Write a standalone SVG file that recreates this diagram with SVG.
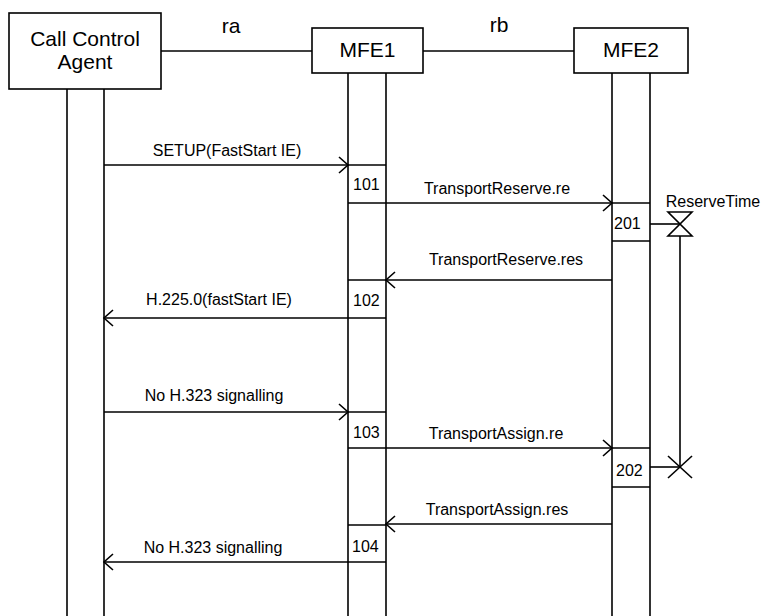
<svg xmlns="http://www.w3.org/2000/svg" width="762" height="616" viewBox="0 0 762 616">
<style>
.ln{stroke:#000;stroke-width:1.6;fill:none}
.box{stroke:#000;stroke-width:1.6;fill:#fff}
.big{font-family:"Liberation Sans",Arial,sans-serif;font-size:21px;fill:#000}
.msg{font-family:"Liberation Sans",Arial,sans-serif;font-size:16px;fill:#000}
.arr{marker-end:url(#ah)}
</style>
<defs>
<marker id="ah" markerUnits="userSpaceOnUse" markerWidth="20" markerHeight="20" viewBox="-10 -10 20 20" refX="0" refY="0" orient="auto" overflow="visible">
<path d="M-9,-8 L0,0 L-9,8" fill="none" stroke="#000" stroke-width="1.6"/>
</marker>
</defs>
<rect width="762" height="616" fill="#fff"/>
<g id="links">
<line class="ln" x1="161" y1="51" x2="312" y2="51"/>
<text class="big" x="231" y="33" text-anchor="middle">ra</text>
<line class="ln" x1="423" y1="51" x2="574" y2="51"/>
<text class="big" x="499" y="32" text-anchor="middle">rb</text>
</g>
<g id="cca">
<line class="ln" x1="67" y1="89" x2="67" y2="616"/>
<line class="ln" x1="104" y1="89" x2="104" y2="616"/>
<rect class="box" x="9" y="13" width="152" height="76"/>
<text class="big" x="85" y="46" text-anchor="middle">Call Control</text>
<text class="big" x="85" y="69" text-anchor="middle">Agent</text>
</g>
<g id="mfe1">
<line class="ln" x1="348" y1="73" x2="348" y2="616"/>
<line class="ln" x1="386" y1="73" x2="386" y2="616"/>
<rect class="box" x="312" y="28" width="111" height="45"/>
<text class="big" x="367.5" y="57" text-anchor="middle">MFE1</text>
</g>
<g id="mfe2">
<line class="ln" x1="612" y1="73" x2="612" y2="616"/>
<line class="ln" x1="650" y1="73" x2="650" y2="616"/>
<rect class="box" x="574" y="28" width="114" height="45"/>
<text class="big" x="631" y="57" text-anchor="middle">MFE2</text>
</g>
<g id="activations">
<line class="ln" x1="348" y1="165" x2="386" y2="165"/>
<line class="ln" x1="348" y1="203" x2="386" y2="203"/>
<text class="msg" x="353" y="190">101</text>
<line class="ln" x1="348" y1="280" x2="386" y2="280"/>
<line class="ln" x1="348" y1="318" x2="386" y2="318"/>
<text class="msg" x="353" y="306">102</text>
<line class="ln" x1="348" y1="412" x2="386" y2="412"/>
<line class="ln" x1="348" y1="448" x2="386" y2="448"/>
<text class="msg" x="353" y="438">103</text>
<line class="ln" x1="348" y1="525" x2="386" y2="525"/>
<line class="ln" x1="348" y1="562" x2="386" y2="562"/>
<text class="msg" x="352" y="552">104</text>
<line class="ln" x1="612" y1="203" x2="650" y2="203"/>
<line class="ln" x1="612" y1="241" x2="650" y2="241"/>
<text class="msg" x="614" y="229">201</text>
<line class="ln" x1="612" y1="448" x2="650" y2="448"/>
<line class="ln" x1="612" y1="487" x2="650" y2="487"/>
<text class="msg" x="616" y="476">202</text>
</g>
<g id="timer">
<text class="msg" x="713" y="207" text-anchor="middle">ReserveTime</text>
<line class="ln" x1="650" y1="224" x2="680" y2="224"/>
<path class="ln" d="M668,212 L692,212 L668,236 L692,236 Z"/>
<line class="ln" x1="680" y1="236" x2="680" y2="467"/>
<line class="ln" x1="650" y1="467" x2="680" y2="467"/>
<line class="ln" x1="668" y1="456" x2="692" y2="478"/>
<line class="ln" x1="692" y1="456" x2="668" y2="478"/>
</g>
<g id="connectors">
<line class="ln arr" x1="104" y1="165" x2="348" y2="165"/>
<text class="msg" x="227" y="156" text-anchor="middle">SETUP(FastStart IE)</text>
<line class="ln arr" x1="386" y1="203" x2="612" y2="203"/>
<text class="msg" x="497" y="194" text-anchor="middle">TransportReserve.re</text>
<line class="ln arr" x1="612" y1="280" x2="386" y2="280"/>
<text class="msg" x="506" y="265" text-anchor="middle">TransportReserve.res</text>
<line class="ln arr" x1="348" y1="318" x2="104" y2="318"/>
<text class="msg" x="219" y="305" text-anchor="middle">H.225.0(fastStart IE)</text>
<line class="ln arr" x1="104" y1="412" x2="348" y2="412"/>
<text class="msg" x="214" y="401" text-anchor="middle">No H.323 signalling</text>
<line class="ln arr" x1="386" y1="448" x2="612" y2="448"/>
<text class="msg" x="496" y="439" text-anchor="middle">TransportAssign.re</text>
<line class="ln arr" x1="612" y1="524" x2="386" y2="524"/>
<text class="msg" x="497" y="515" text-anchor="middle">TransportAssign.res</text>
<line class="ln arr" x1="348" y1="562" x2="104" y2="562"/>
<text class="msg" x="213" y="553" text-anchor="middle">No H.323 signalling</text>
</g>
</svg>
